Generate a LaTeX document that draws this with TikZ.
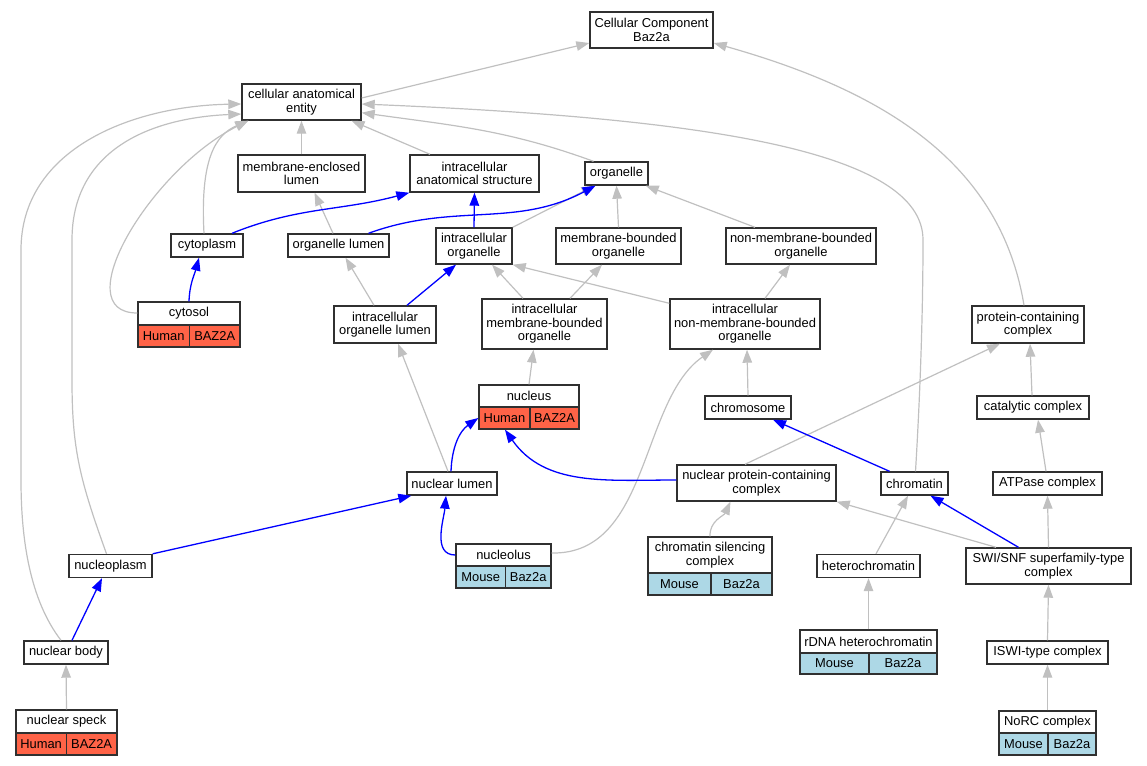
\documentclass[tikz,border=0pt]{standalone}
\usepackage{fontspec}
\setmainfont{Liberation Sans}
\usetikzlibrary{arrows.meta}
\definecolor{human}{HTML}{FF6347}
\definecolor{mouse}{HTML}{ADD8E6}
\definecolor{edgegray}{HTML}{C0C0C0}
\definecolor{boxline}{HTML}{303030}
\newcommand\gofont{\fontsize{12.9}{13.5}\selectfont}
\newcommand\sphuman{Human}\newcommand\gnhuman{BAZ2A}
\newcommand\spmouse{Mouse}\newcommand\gnmouse{Baz2a}
\tikzset{
  term/.style 2 args={draw=boxline, line width=1.4pt, fill=white, align=center, inner sep=0pt, font=\gofont, minimum width=#1pt, minimum height=#2pt},
  tbl/.style={draw=boxline, line width=1.4pt, inner sep=0pt},
  lbl/.style={align=center, inner sep=0pt, font=\gofont},
  upedge/.style={draw=edgegray, line width=1.2pt, -{Triangle[length=13pt,width=9.5pt]}},
  hitedge/.style={draw=blue, line width=1.3pt, -{Triangle[length=13pt,width=9.5pt]}}
}
% name, x1, x2, split, y1, ymid, y2, label, species
\newcommand{\termtab}[9]{%
  \fill[#9] (#2,#6) rectangle (#3,#7);
  \node[tbl, minimum width={(#3-#2)*1pt}, minimum height={(#7-#5)*1pt}] (#1) at ({(#2+#3)/2},{(#5+#7)/2}) {};
  \draw[boxline, line width=1.4pt] (#2,#6) -- (#3,#6) (#4,#6) -- (#4,#7);
  \node[lbl] (#1-t) at ({(#2+#3)/2},{(#5+#6)/2}) {#8};
  \node[lbl] (#1-s) at ({(#2+#4)/2},{(#6+#7)/2}) {\csname sp#9\endcsname};
  \node[lbl] (#1-g) at ({(#4+#3)/2},{(#6+#7)/2}) {\csname gn#9\endcsname};
}
\begin{document}
\begin{tikzpicture}[x=1pt,y=-1pt]
\useasboundingbox (0,0) rectangle (1147,765);

\node[term={123}{36}] (cc) at (651.5,30) {Cellular Component\\Baz2a};
\node[term={119}{36}] (cae) at (301.5,102) {cellular anatomical\\entity};
\node[term={127}{37}] (mel) at (301.5,173.5) {membrane-enclosed\\lumen};
\node[term={129}{37}] (ias) at (474.5,173.5) {intracellular\\anatomical structure};
\node[term={63}{23}] (org) at (616.5,173.5) {organelle};
\node[term={72}{23}] (cyto) at (207,245.5) {cytoplasm};
\node[term={101}{23}] (olum) at (338.5,245.5) {organelle lumen};
\node[term={76}{36}] (io) at (474,246) {intracellular\\organelle};
\node[term={125}{36}] (mbo) at (618.5,246) {membrane-bounded\\organelle};
\node[term={150}{36}] (nmbo) at (801,246) {non-membrane-bounded\\organelle};
\node[term={102}{37}] (iol) at (385,324.5) {intracellular\\organelle lumen};
\node[term={125}{50}] (imbo) at (544.5,324) {intracellular\\membrane-bounded\\organelle};
\node[term={150}{50}] (inmbo) at (745,324) {intracellular\\non-membrane-bounded\\organelle};
\node[term={112}{37}] (pcc) at (1028,324.5) {protein-containing\\complex};
\node[term={86}{23}] (chrs) at (748,407.5) {chromosome};
\node[term={112}{23}] (cat) at (1033,407.5) {catalytic complex};
\node[term={90}{23}] (nlum) at (452,483.5) {nuclear lumen};
\node[term={159}{36}] (npcc) at (756.5,483) {nuclear protein-containing\\complex};
\node[term={67}{23}] (chrt) at (914.5,483.5) {chromatin};
\node[term={109}{23}] (atp) at (1047.5,483.5) {ATPase complex};
\node[term={83}{23}] (nplasm) at (110.5,566) {nucleoplasm};
\node[term={103}{23}] (hchr) at (868.5,566) {heterochromatin};
\node[term={165}{36}] (swi) at (1048.5,566) {SWI/SNF superfamily-type\\complex};
\node[term={84}{23}] (nbody) at (66,652.5) {nuclear body};
\node[term={121}{23}] (iswi) at (1047.5,652.5) {ISWI-type complex};

\termtab{ctsl}{138}{240}{189.4}{302}{325}{347}{cytosol}{human}
\termtab{nucl}{479}{579}{530}{385}{407}{429}{nucleus}{human}
\termtab{nclo}{456}{551}{505.4}{544}{566}{588}{nucleolus}{mouse}
\termtab{nspk}{16}{117}{66.2}{710}{733}{755}{nuclear speck}{human}
\termtab{csc}{648}{772}{711}{537}{573}{595}{chromatin silencing\\complex}{mouse}
\termtab{rdna}{800}{937}{869}{630}{653}{674}{rDNA heterochromatin}{mouse}
\termtab{norc}{999}{1096}{1048}{711}{733}{755}{NoRC complex}{mouse}

\draw[upedge] ([yshift=4pt]cae.east) -- ([yshift=-13pt]cc.west);
\draw[upedge] ([xshift=-4pt]pcc.north) .. controls (1000,160) and (880,90) .. ([yshift=-13pt]cc.east);
\draw[upedge] (mel.north) -- (cae.south);
\draw[upedge] ([xshift=-44.5pt]ias.north) -- ([xshift=50pt]cae.south);
\draw[upedge] ([xshift=-23pt]org.north) to[out=160,in=-8] ([yshift=-10.7pt]cae.east);
\draw[upedge] ([xshift=1pt]chrt.north) .. controls (921,380) and (923,300) .. (923,240) .. controls (923,150) and (700,118) .. ([yshift=-2pt]cae.east);
\draw[upedge] ([xshift=-3pt]cyto.north) .. controls (200,160) and (215,135) .. ([xshift=7pt]cae.south west);
\draw[upedge] ([yshift=11.5pt]ctsl.west) .. controls (65,313) and (150,170) .. ([xshift=7pt]cae.south west);
\draw[upedge] ([xshift=-4pt]nplasm.north) .. controls (80,480) and (72,450) .. (72,380) -- (72,240) .. controls (72,150) and (150,118) .. ([yshift=-12pt]cae.west);
\draw[upedge] ([xshift=-5pt]nbody.north) .. controls (30,600) and (21,540) .. (21,480) -- (21,250) .. controls (21,150) and (130,106) .. ([yshift=-2pt]cae.west);
\draw[upedge] ([xshift=-5.5pt]olum.north) -- ([xshift=13pt]mel.south);
\draw[upedge] (io.north east) -- ([xshift=-22pt]org.south);
\draw[upedge] (mbo.north) -- (org.south);
\draw[upedge] ([xshift=-46pt]nmbo.north) -- ([xshift=-3pt]org.south east);
\draw[upedge] ([xshift=-11pt]iol.north) -- ([xshift=7pt]olum.south);
\draw[upedge] ([xshift=-21.5pt]imbo.north) -- ([xshift=18pt]io.south);
\draw[upedge] ([xshift=25.5pt]imbo.north) -- ([xshift=-16.5pt]mbo.south);
\draw[upedge] ([yshift=-5pt]inmbo.north west) -- (io.south east);
\draw[upedge] ([xshift=20pt]inmbo.north) -- ([xshift=-11pt]nmbo.south);
\draw[upedge] (nucl.north) -- ([xshift=-11pt]imbo.south);
\draw[upedge] ([xshift=-4pt]nlum.north) -- ([xshift=13pt]iol.south);
\draw[upedge] (chrs.north) -- ([xshift=2pt]inmbo.south);
\draw[upedge] ([yshift=13pt]nclo.east) .. controls (650,555) and (640,400) .. ([xshift=-32pt]inmbo.south);
\draw[upedge] ([xshift=-11.5pt]npcc.north) -- ([xshift=-28pt]pcc.south);
\draw[upedge] ([xshift=-1pt]cat.north) -- ([xshift=2pt]pcc.south);
\draw[upedge] ([xshift=-1.5pt]atp.north) -- ([xshift=5pt]cat.south);
\draw[upedge] (csc.north) to[out=92,in=-115] ([xshift=-26pt]npcc.south);
\draw[upedge] ([xshift=7.5pt]hchr.north) -- ([xshift=-6.5pt]chrt.south);
\draw[upedge] ([xshift=-52.5pt]swi.north) -- (npcc.south east);
\draw[upedge] (swi.north) -- (atp.south);
\draw[upedge] (rdna.north) -- (hchr.south);
\draw[upedge] (iswi.north) -- (swi.south);
\draw[upedge] (norc.north) -- (iswi.south);
\draw[upedge] (nspk.north) -- (nbody.south);

\draw[hitedge] ([xshift=25pt]cyto.north) to[out=22,in=195] (ias.south west);
\draw[hitedge] ([xshift=30pt]olum.north) to[out=20,in=208] ([xshift=-21pt]org.south);
\draw[hitedge] (io.north) -- (ias.south);
\draw[hitedge] (ctsl.north) to[out=88,in=-105] ([xshift=-8pt]cyto.south);
\draw[hitedge] ([xshift=22pt]iol.north) -- ([xshift=-18pt]io.south);
\draw[hitedge] ([xshift=-1pt]nlum.north) to[out=88,in=215] ([yshift=-11pt]nucl.west);
\draw[hitedge] ([yshift=3pt]npcc.west) to[out=180,in=-55] ([xshift=-24pt]nucl.south);
\draw[hitedge] (nplasm.north east) -- ([xshift=5pt]nlum.south west);
\draw[hitedge] ([yshift=11pt]nclo.west) to[out=180,in=-95] ([xshift=-6pt]nlum.south);
\draw[hitedge] ([xshift=6pt]nbody.north) -- ([xshift=-8.5pt]nplasm.south);
\draw[hitedge] ([xshift=-25pt]chrt.north) -- ([xshift=25pt]chrs.south);
\draw[hitedge] ([xshift=-30pt]swi.north) -- ([xshift=16pt]chrt.south);
\end{tikzpicture}
\end{document}
